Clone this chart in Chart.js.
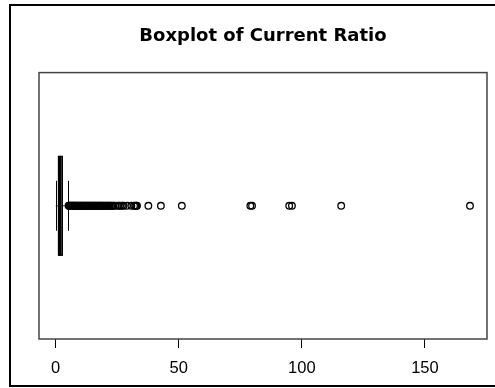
<!DOCTYPE html>
<html>
<head>
<meta charset="utf-8">
<script src="https://cdn.jsdelivr.net/npm/chart.js@4/dist/chart.umd.min.js"></script>
<style>
  html, body { margin: 0; padding: 0; background: #fff; }
  #wrap { width: 495px; height: 388px; position: relative; }
</style>
</head>
<body>
<div id="wrap"><canvas id="boxChart" width="495" height="388"></canvas></div>
<script>
// Boxplot summary
const seriesName = "Current Ratio";
const lowerWhisker = 0.1;
const q1 = 1.2;
const median = 1.9;
const q3 = 2.8;
const upperWhisker = 5.0;

// outliers beyond the upper whisker, dense near 5-22
const outliers = [
    5.3, 5.6, 5.9, 6.2, 6.5, 6.8, 7.1, 7.4, 7.7, 8.0, 8.4, 8.7, 9.0, 9.4, 9.7,
    10.1, 10.4, 10.8, 11.1, 11.5, 11.9, 12.2, 12.6, 13.0, 13.3, 13.7, 14.1, 14.5,
    14.8, 15.2, 15.6, 16.0, 16.3, 16.7, 17.1, 17.5, 17.9, 18.3, 18.6, 19.0, 19.4,
    19.8, 20.2, 20.6, 21.0, 21.4, 21.8, 22.1,
    22.6, 23.1, 23.6, 24.3, 25.5, 26.1, 27.0, 27.6, 29.0, 30.8, 31.9, 32.4, 32.8, 33.1,
    37.7, 42.8, 51.3, 79.1, 79.8, 94.9, 96.0, 116.0, 168.3
];

const tickValues = [0, 50, 100, 150];
const axisMin = -6.7;
const axisMax = 175.2;

// draws the frame, the plot box and the box & whiskers from the scales
const boxplotPlugin = {
    id: "boxplot",
    beforeDraw(chart) {
        const ctx = chart.ctx;
        ctx.save();
        ctx.fillStyle = "#fff";
        ctx.fillRect(0, 0, chart.width, chart.height);
        ctx.strokeStyle = "#000";
        ctx.lineWidth = 2;
        ctx.strokeRect(10, 5, 500, 381);
        ctx.restore();
    },
    beforeDatasetsDraw(chart) {
        const ctx = chart.ctx;
        const x = chart.scales.x;
        const y = chart.scales.y;
        const cy = y.getPixelForValue(0.5);
        const halfBox = 49.5;
        const halfStaple = 25;

        ctx.save();
        // whiskers
        ctx.strokeStyle = "#333";
        ctx.lineWidth = 1;
        ctx.beginPath();
        ctx.moveTo(x.getPixelForValue(lowerWhisker), cy);
        ctx.lineTo(x.getPixelForValue(q1), cy);
        ctx.moveTo(x.getPixelForValue(q3), cy);
        ctx.lineTo(x.getPixelForValue(upperWhisker), cy);
        ctx.stroke();

        // staples
        ctx.strokeStyle = "#000";
        ctx.beginPath();
        [lowerWhisker, upperWhisker].forEach(v => {
            const px = Math.round(x.getPixelForValue(v)) + 0.5;
            ctx.moveTo(px, cy - halfStaple);
            ctx.lineTo(px, cy + halfStaple);
        });
        ctx.stroke();

        // box
        const left = x.getPixelForValue(q1);
        const right = x.getPixelForValue(q3);
        ctx.fillStyle = "#777";
        ctx.fillRect(left, cy - halfBox, right - left, halfBox * 2);
        ctx.lineWidth = 1.2;
        ctx.strokeRect(left, cy - halfBox, right - left, halfBox * 2);

        // median
        ctx.lineWidth = 2.5;
        ctx.beginPath();
        ctx.moveTo(x.getPixelForValue(median), cy - halfBox);
        ctx.lineTo(x.getPixelForValue(median), cy + halfBox);
        ctx.stroke();
        ctx.restore();
    },
    afterDraw(chart) {
        const a = chart.chartArea;
        const ctx = chart.ctx;
        ctx.save();
        ctx.strokeStyle = "#444";
        ctx.lineWidth = 1.5;
        ctx.strokeRect(a.left, a.top, a.right - a.left, a.bottom - a.top);
        ctx.restore();
    }
};

new Chart(document.getElementById("boxChart").getContext("2d"), {
    type: "scatter",
    data: {
        datasets: [{
            label: seriesName,
            data: outliers.map(v => ({ x: v, y: 0.5 })),
            pointStyle: "circle",
            pointRadius: 3.3,
            pointBorderWidth: 1.3,
            borderColor: "#000",
            backgroundColor: "rgba(0,0,0,0)"
        }]
    },
    options: {
        responsive: false,
        animation: false,
        events: [],
        layout: { padding: { left: 39, right: 8, top: 0, bottom: 0 } },
        plugins: {
            legend: { display: false },
            tooltip: { enabled: false },
            title: {
                display: true,
                text: "Boxplot of Current Ratio",
                color: "#000",
                font: { family: "'DejaVu Sans'", weight: "bold", size: 18 },
                padding: { top: 26, bottom: 25 }
            }
        },
        scales: {
            x: {
                type: "linear",
                min: axisMin,
                max: axisMax,
                afterBuildTicks: scale => {
                    scale.ticks = tickValues.map(v => ({ value: v }));
                },
                afterFit: scale => { scale.height = 49; },
                border: { display: false },
                grid: {
                    drawOnChartArea: false,
                    drawTicks: true,
                    tickLength: 9,
                    color: "#000"
                },
                ticks: {
                    color: "#000",
                    padding: 11,
                    maxRotation: 0,
                    font: { family: "'Liberation Sans', Arial", size: 16.5 }
                }
            },
            y: {
                type: "linear",
                min: 0,
                max: 1,
                display: false
            }
        }
    },
    plugins: [boxplotPlugin]
});
</script>
</body>
</html>
